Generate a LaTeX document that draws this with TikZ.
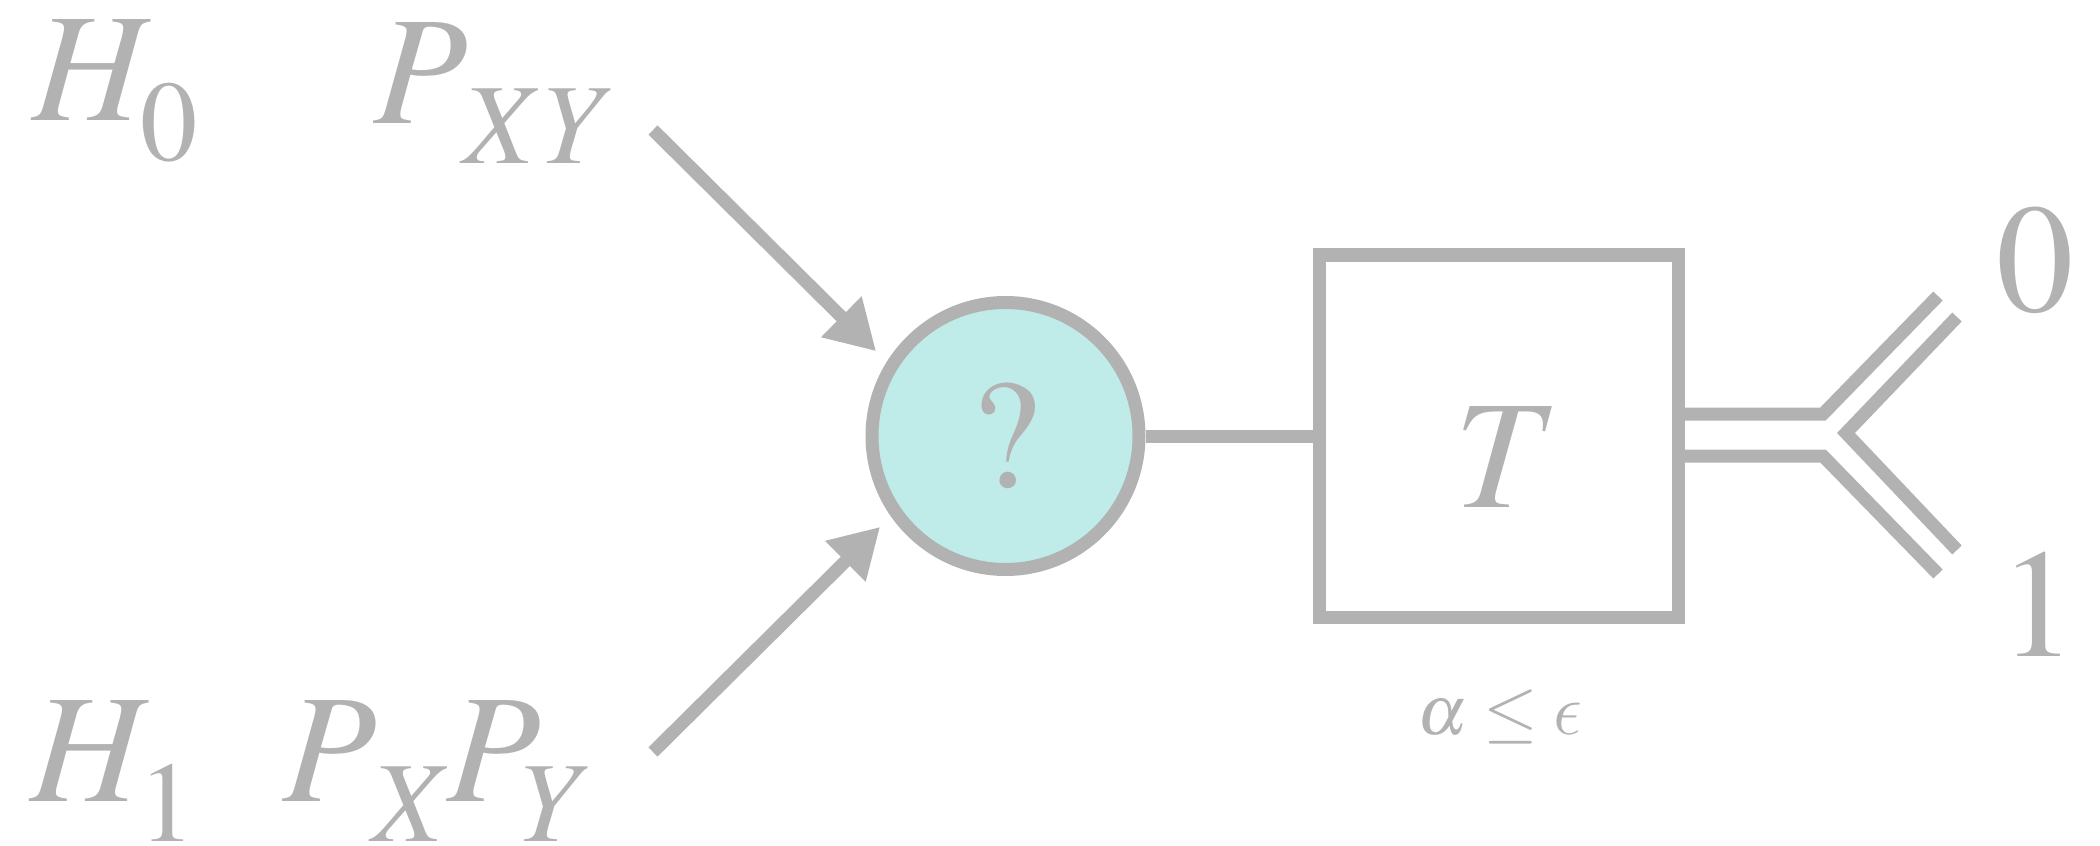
\documentclass[tikz,border=0pt]{standalone}
\usepackage{mathptmx}
\usepackage{tikz}
\usetikzlibrary{arrows.meta}
\definecolor{lgray}{RGB}{178,178,178}
\definecolor{lcyan}{RGB}{191,236,233}
\DeclareSymbolFont{cmlet}{OML}{cmm}{m}{it}
\DeclareMathSymbol{\lunateps}{\mathord}{cmlet}{"0F}
\newcommand{\subdrop}{\fontdimen16\textfont2=0.40cm}

\begin{document}
\begin{tikzpicture}[line width=0.13cm,color=lgray,inner sep=0pt,
  big/.style={font=\fontsize{44}{53}\selectfont},
  small/.style={font=\fontsize{20}{24}\selectfont},
  arr/.style={-{Triangle[length=0.49cm,width=0.54cm]},shorten >=0.15cm}]
\useasboundingbox (0,0) rectangle (21,8.45);
\node[big,anchor=base west] (H0) at (0.26,7.25) {$\subdrop H_0$};
\node[big,anchor=base west] (P0) at (3.67,7.21) {$\subdrop P_{\kern0.15cm XY}$};
\node[big,anchor=base west] (H1) at (0.24,0.44) {$\subdrop H_1$};
\node[big,anchor=base west] (P1) at (2.76,0.44) {$\subdrop P_{\kern0.15cm X}\mkern-1mu P_Y$};
\node[big,circle,draw,fill=lcyan,minimum size=2.67cm] (Q) at (10.055,4.09) {$?$};
\node[big,draw,minimum width=3.59cm,minimum height=3.62cm,text height=1.42cm,text depth=0pt] (T) at (14.985,4.09) {\kern0.18cm$T$};
\node[small,anchor=base] (bound) at (15.00,1.10) {$\alpha\le\lunateps$};
\node[big] (out0) at (20.35,5.845) {$0$};
\node[big] (out1) at (20.385,2.40) {$1$};
\coordinate (a0) at (6.53,7.15);
\coordinate (a1) at (6.53,0.93);
\coordinate (sw) at (18.46,4.12);
\path (a0) edge[arr] (Q.148);
\path (a1) edge[arr] (Q.215);
\path (Q) edge (T);
\draw (T.east) ++(0,0.22) -- ++(1.385,0) -- ++(1.15,1.18);
\draw (T.east) ++(0,-0.20) -- ++(1.385,0) -- ++(1.15,-1.18);
\draw (sw) ++(1.11,1.16) -- (sw) -- ++(1.11,-1.17);
\end{tikzpicture}
\end{document}
